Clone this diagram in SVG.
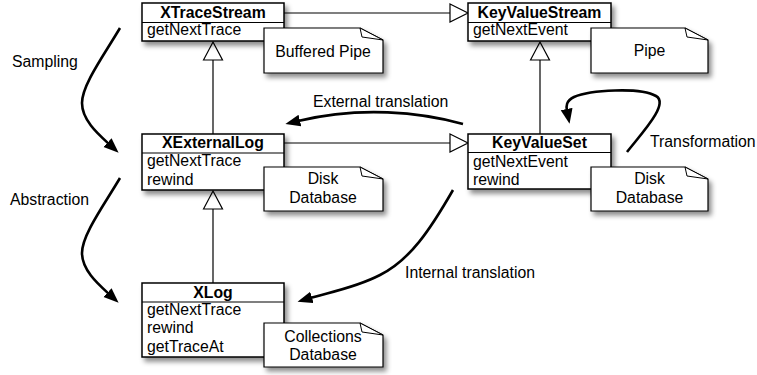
<svg xmlns="http://www.w3.org/2000/svg" width="757" height="375" viewBox="0 0 757 375">
<style>
text{font-family:"Liberation Sans",Arial,sans-serif;font-size:15.8px;fill:#000}
.t{font-weight:bold;text-anchor:middle}
.c{text-anchor:middle}
.box{fill:#fff;stroke:#000;stroke-width:1.5;filter:url(#sh)}
.div{stroke:#000;stroke-width:1.2}
.note{fill:#fff;stroke:#000;stroke-width:1.2;filter:url(#sh)}
.ear{fill:#fff;stroke:#000;stroke-width:1}
.ln{fill:none;stroke:#000;stroke-width:1.2}
.tri{fill:#fff;stroke:#000;stroke-width:1.2}
.cv{fill:none;stroke:#000;stroke-width:2.6;marker-end:url(#ah)}
</style>
<defs>
<filter id="sh" x="-20%" y="-20%" width="140%" height="150%">
<feDropShadow dx="3" dy="4" stdDeviation="2.5" flood-color="#000" flood-opacity="0.45"/>
</filter>
<marker id="ah" markerUnits="userSpaceOnUse" markerWidth="16" markerHeight="14" refX="2" refY="6" orient="auto">
<path d="M0,0 L15,6 L0,12 z" fill="#000"/>
</marker>
</defs>
<g id="connectors">
<path class="ln" d="M284,13 H450"/>
<path class="tri" d="M450,4 L468,13 L450,22 z"/>
<path class="ln" d="M284,143 H450"/>
<path class="tri" d="M450,134 L468,143 L450,152 z"/>
<path class="ln" d="M213,60 V134"/>
<path class="tri" d="M203.5,60 L213,42 L222.5,60 z"/>
<path class="ln" d="M540,60 V134"/>
<path class="tri" d="M530.5,60 L540,42 L549.5,60 z"/>
<path class="ln" d="M213,209 V283"/>
<path class="tri" d="M203.5,209 L213,191 L222.5,209 z"/>
<path class="cv" d="M120,28 C104,55 82,85 82,103 C82,120 98,134 109,144"/>
<path class="cv" d="M120,178 C104,205 82,235 82,253 C82,270 98,284 109,294"/>
<path class="cv" d="M463,124 C420,112 360,106 298,121"/>
<path class="cv" d="M627,152 C640,135 670,104 656,96 C640,87 590,90 574,97 C566,101 566,106 567,111"/>
<path class="cv" d="M453,190 C430,230 410,260 380,275 C355,288 330,292 310,298"/>
<text x="12" y="67">Sampling</text>
<text x="10" y="205">Abstraction</text>
<text x="313" y="107">External translation</text>
<text x="650" y="147">Transformation</text>
<text x="405" y="278">Internal translation</text>
</g>
<g id="XTraceStream">
<rect class="box" x="142" y="3" width="142" height="38"/>
<line class="div" x1="142" y1="22.5" x2="284" y2="22.5"/>
<text class="t" x="213" y="18">XTraceStream</text>
<text x="147" y="35">getNextTrace</text>
</g>
<g id="BufferedPipe">
<path class="note" d="M264,28 H360 L383,40 V73 H264 z"/>
<path class="ear" d="M360,28 L362,37 L383,40 z"/>
<text class="c" x="323" y="57">Buffered Pipe</text>
</g>
<g id="KeyValueStream">
<rect class="box" x="468" y="3" width="143" height="38"/>
<line class="div" x1="468" y1="22.5" x2="611" y2="22.5"/>
<text class="t" x="539.5" y="18">KeyValueStream</text>
<text x="473" y="35">getNextEvent</text>
</g>
<g id="Pipe">
<path class="note" d="M591,28 H685 L708,40 V73 H591 z"/>
<path class="ear" d="M685,28 L687,37 L708,40 z"/>
<text class="c" x="649.5" y="56">Pipe</text>
</g>
<g id="XExternalLog">
<rect class="box" x="142" y="134" width="142" height="56"/>
<line class="div" x1="142" y1="153" x2="284" y2="153"/>
<text class="t" x="213" y="148">XExternalLog</text>
<text x="147" y="166">getNextTrace</text>
<text x="147" y="185">rewind</text>
</g>
<g id="DiskDatabase1">
<path class="note" d="M264,167 H360 L383,179 V211 H264 z"/>
<path class="ear" d="M360,167 L362,176 L383,179 z"/>
<text class="c" x="323" y="184">Disk</text>
<text class="c" x="323" y="203">Database</text>
</g>
<g id="KeyValueSet">
<rect class="box" x="468" y="134" width="143" height="55"/>
<line class="div" x1="468" y1="152.5" x2="611" y2="152.5"/>
<text class="t" x="539.5" y="148">KeyValueSet</text>
<text x="473" y="167">getNextEvent</text>
<text x="473" y="185">rewind</text>
</g>
<g id="DiskDatabase2">
<path class="note" d="M591,167 H685 L708,179 V211 H591 z"/>
<path class="ear" d="M685,167 L687,176 L708,179 z"/>
<text class="c" x="649.5" y="184">Disk</text>
<text class="c" x="649.5" y="203">Database</text>
</g>
<g id="XLog">
<rect class="box" x="142" y="283" width="142" height="74"/>
<line class="div" x1="142" y1="302" x2="284" y2="302"/>
<text class="t" x="213" y="298">XLog</text>
<text x="147" y="315">getNextTrace</text>
<text x="147" y="333">rewind</text>
<text x="147" y="352">getTraceAt</text>
</g>
<g id="CollectionsDatabase">
<path class="note" d="M264,323 H360 L383,335 V367 H264 z"/>
<path class="ear" d="M360,323 L362,332 L383,335 z"/>
<text class="c" x="323" y="342">Collections</text>
<text class="c" x="323" y="360">Database</text>
</g>
</svg>
